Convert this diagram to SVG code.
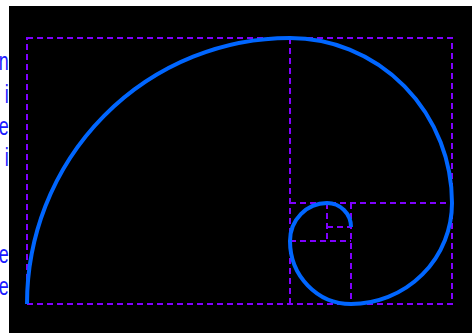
<svg xmlns="http://www.w3.org/2000/svg" width="472" height="333" viewBox="0 0 472 333">
<style>
.lbl{font-family:"Liberation Sans",Arial,sans-serif;font-size:25px;fill:#1a1aff;text-anchor:end}
.grid{fill:none;stroke:#8000ff;stroke-width:2;stroke-dasharray:6 4}
.spiral{fill:none;stroke:#0066ff;stroke-width:4;stroke-linecap:butt}
</style>
<rect width="472" height="333" fill="#ffffff"/>
<g id="labels">
<text class="lbl" transform="translate(8.8,70) scale(0.72,1)">n</text>
<text class="lbl" transform="translate(8.8,103) scale(0.72,1)">i</text>
<text class="lbl" transform="translate(8.8,135) scale(0.72,1)">e</text>
<text class="lbl" transform="translate(8.8,166) scale(0.72,1)">i</text>
<text class="lbl" transform="translate(8.8,263) scale(0.72,1)">e</text>
<text class="lbl" transform="translate(8.8,295) scale(0.72,1)">e</text>
</g>
<rect x="9" y="6" width="463" height="327" fill="#000000"/>
<g id="grid">
<rect class="grid" x="27" y="38" width="425" height="266"/>
<path class="grid" d="M290,38V304M290,203H452M351,203V304M290,241H351M327,203V241M327,227H351"/>
</g>
<g id="spiral">
<path class="spiral" d="M27,304A263,266 0 0 1 290,38A162,165 0 0 1 452,203A101,101 0 0 1 351,304A61,63 0 0 1 290,241A37,38 0 0 1 327,203A24,24 0 0 1 351,227"/>
</g>
</svg>
